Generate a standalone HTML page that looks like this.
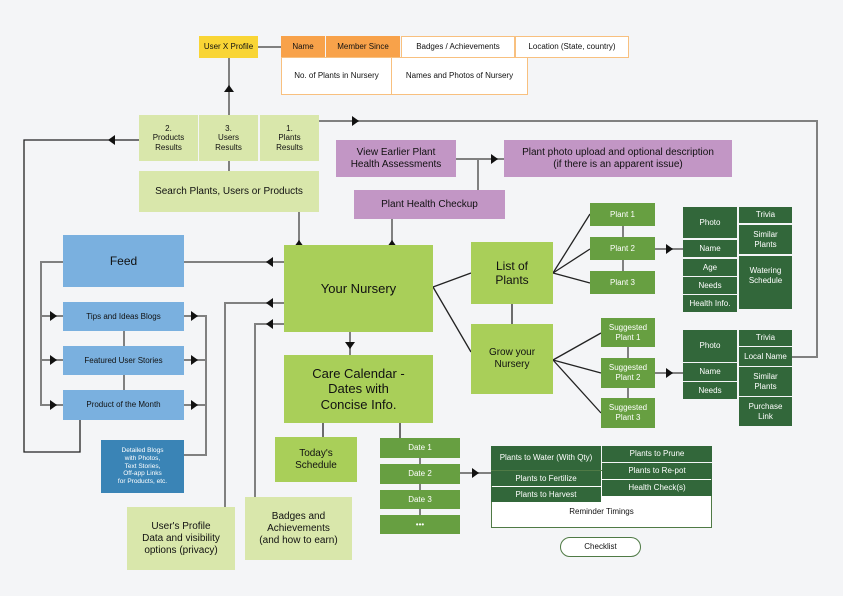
<!DOCTYPE html>
<html><head><meta charset="utf-8"><style>
body{margin:0;width:843px;height:596px;background:#f4f5f7;position:relative;overflow:hidden;font-family:"Liberation Sans",sans-serif;}
.b{position:absolute;display:flex;align-items:center;justify-content:center;text-align:center;box-sizing:border-box;color:#111;line-height:1.2;}
.s{font-size:8px;}.m{font-size:10px;}.l{font-size:12px;}.xl{font-size:13px;}
.lg{background:#d9e7ab;}.gr{background:#a9cf59;}.mg{background:#679f41;color:#fff;}.dg{background:#32673a;color:#fff;}
.pu{background:#c296c5;}.bl{background:#7ab0df;}.or{background:#f8a24a;}.ow{background:#fff;border:1.5px solid #f8c07f;}
svg{position:absolute;left:0;top:0;}
</style></head><body>
<svg width="843" height="596">
<g stroke="#808080" stroke-width="2" fill="none">
<line x1="229" y1="58" x2="229" y2="171"/><line x1="258" y1="47" x2="281" y2="47"/>
<polyline points="319,121 817,121 817,357 792,357"/>
<line x1="456" y1="159" x2="504" y2="159"/><line x1="478" y1="159" x2="478" y2="190"/>
<line x1="299" y1="212" x2="299" y2="245"/><line x1="392" y1="219" x2="392" y2="245"/>
<line x1="284" y1="262" x2="184" y2="262"/>
<polyline points="63,262 41,262 41,405 63,405"/><line x1="41" y1="316" x2="63" y2="316"/><line x1="41" y1="360" x2="63" y2="360"/>
<line x1="124" y1="331" x2="124" y2="346"/><line x1="124" y1="375" x2="124" y2="390"/>
<polyline points="184,316 206,316 206,455 184,455"/><line x1="184" y1="360" x2="206" y2="360"/><line x1="184" y1="405" x2="206" y2="405"/>
<polyline points="284,303 225,303 225,507"/><polyline points="284,324 255,324 255,497"/>
<line x1="350" y1="332" x2="350" y2="355"/>
<line x1="420" y1="458" x2="420" y2="515"/><line x1="460" y1="473" x2="491" y2="473"/>
<line x1="655" y1="249" x2="683" y2="249"/><line x1="655" y1="373" x2="683" y2="373"/>
<line x1="623" y1="226" x2="623" y2="271"/><line x1="628" y1="347" x2="628" y2="398"/>
</g>
<g stroke="#222" stroke-width="1.3" fill="none">
<polyline points="139,140 24,140 24,452 80,452 80,420"/>
<line x1="433" y1="287" x2="471" y2="273"/><line x1="433" y1="287" x2="471" y2="352"/>
<line x1="512" y1="304" x2="512" y2="324"/>
<line x1="553" y1="273" x2="590" y2="214"/><line x1="553" y1="273" x2="590" y2="249"/><line x1="553" y1="273" x2="590" y2="283"/>
<line x1="553" y1="360" x2="601" y2="333"/><line x1="553" y1="360" x2="601" y2="373"/><line x1="553" y1="360" x2="601" y2="413"/>
<line x1="323" y1="423" x2="323" y2="437"/><line x1="400" y1="423" x2="400" y2="438"/>
</g>
<g fill="#111">
<polygon points="229,85 224,92 234,92"/><polygon points="359,121 352,116 352,126"/><polygon points="108,140 115,135 115,145"/>
<polygon points="498,159 491,154 491,164"/><polygon points="299,240 294,247 304,247"/><polygon points="392,240 387,247 397,247"/>
<polygon points="266,262 273,257 273,267"/><polygon points="266,303 273,298 273,308"/><polygon points="266,324 273,319 273,329"/>
<polygon points="57,316 50,311 50,321"/><polygon points="57,360 50,355 50,365"/><polygon points="57,405 50,400 50,410"/>
<polygon points="198,316 191,311 191,321"/><polygon points="198,360 191,355 191,365"/><polygon points="198,405 191,400 191,410"/>
<polygon points="350,349 345,342 355,342"/><polygon points="479,473 472,468 472,478"/>
<polygon points="673,249 666,244 666,254"/><polygon points="673,373 666,368 666,378"/>
</g>
</svg>
<div class="b s" style="left:199px;top:36px;width:59px;height:22px;background:#f9d535">User X Profile</div>
<div class="b s or" style="left:281px;top:36px;width:44px;height:21px">Name</div>
<div class="b s or" style="left:326px;top:36px;width:74px;height:21px">Member Since</div>
<div class="b s ow" style="left:401px;top:36px;width:114px;height:22px">Badges / Achievements</div>
<div class="b s ow" style="left:515px;top:36px;width:114px;height:22px">Location (State, country)</div>
<div class="b s ow" style="left:281px;top:57px;width:111px;height:38px">No. of Plants in Nursery</div>
<div class="b s ow" style="left:391px;top:57px;width:137px;height:38px">Names and Photos of Nursery</div>
<div class="b s lg" style="left:139px;top:115px;width:59px;height:46px">2.<br>Products<br>Results</div>
<div class="b s lg" style="left:199px;top:115px;width:59px;height:46px">3.<br>Users<br>Results</div>
<div class="b s lg" style="left:260px;top:115px;width:59px;height:46px">1.<br>Plants<br>Results</div>
<div class="b m lg" style="left:139px;top:171px;width:180px;height:41px">Search Plants, Users or Products</div>
<div class="b m pu" style="left:336px;top:140px;width:120px;height:37px">View Earlier Plant<br>Health Assessments</div>
<div class="b m pu" style="left:504px;top:140px;width:228px;height:37px">Plant photo upload and optional description<br>(if there is an apparent issue)</div>
<div class="b m pu" style="left:354px;top:190px;width:151px;height:29px">Plant Health Checkup</div>
<div class="b l bl" style="left:63px;top:235px;width:121px;height:52px">Feed</div>
<div class="b s bl" style="left:63px;top:302px;width:121px;height:29px">Tips and Ideas Blogs</div>
<div class="b s bl" style="left:63px;top:346px;width:121px;height:29px">Featured User Stories</div>
<div class="b s bl" style="left:63px;top:390px;width:121px;height:30px">Product of the Month</div>
<div class="b" style="left:101px;top:440px;width:83px;height:53px;background:#3a84b6;color:#fff;font-size:6.5px">Detailed Blogs<br>with Photos,<br>Text Stories,<br>Off-app Links<br>for Products, etc.</div>
<div class="b xl gr" style="left:284px;top:245px;width:149px;height:87px">Your Nursery</div>
<div class="b xl gr" style="left:284px;top:355px;width:149px;height:68px">Care Calendar -<br>Dates with<br>Concise Info.</div>
<div class="b m gr" style="left:275px;top:437px;width:82px;height:45px">Today's<br>Schedule</div>
<div class="b s mg" style="left:380px;top:438px;width:80px;height:20px">Date 1</div>
<div class="b s mg" style="left:380px;top:464px;width:80px;height:20px">Date 2</div>
<div class="b s mg" style="left:380px;top:490px;width:80px;height:19px">Date 3</div>
<div class="b s mg" style="left:380px;top:515px;width:80px;height:19px">•••</div>
<div class="b m lg" style="left:127px;top:507px;width:108px;height:63px">User's Profile<br>Data and visibility<br>options (privacy)</div>
<div class="b m lg" style="left:245px;top:497px;width:107px;height:63px">Badges and<br>Achievements<br>(and how to earn)</div>
<div class="b l gr" style="left:471px;top:242px;width:82px;height:62px">List of<br>Plants</div>
<div class="b m gr" style="left:471px;top:324px;width:82px;height:70px">Grow your<br>Nursery</div>
<div class="b s mg" style="left:590px;top:203px;width:65px;height:23px">Plant 1</div>
<div class="b s mg" style="left:590px;top:237px;width:65px;height:23px">Plant 2</div>
<div class="b s mg" style="left:590px;top:271px;width:65px;height:23px">Plant 3</div>
<div class="b s mg" style="left:601px;top:318px;width:54px;height:29px">Suggested<br>Plant 1</div>
<div class="b s mg" style="left:601px;top:358px;width:54px;height:30px">Suggested<br>Plant 2</div>
<div class="b s mg" style="left:601px;top:398px;width:54px;height:30px">Suggested<br>Plant 3</div>
<div class="b s dg" style="left:683px;top:207px;width:54px;height:31px">Photo</div>
<div class="b s dg" style="left:683px;top:240px;width:54px;height:17px">Name</div>
<div class="b s dg" style="left:683px;top:259px;width:54px;height:17px">Age</div>
<div class="b s dg" style="left:683px;top:277px;width:54px;height:17px">Needs</div>
<div class="b s dg" style="left:683px;top:295px;width:54px;height:17px">Health Info.</div>
<div class="b s dg" style="left:739px;top:207px;width:53px;height:16px">Trivia</div>
<div class="b s dg" style="left:739px;top:225px;width:53px;height:29px">Similar<br>Plants</div>
<div class="b s dg" style="left:739px;top:256px;width:53px;height:53px;align-items:flex-start;padding-top:10px">Watering<br>Schedule</div>
<div class="b s dg" style="left:683px;top:330px;width:54px;height:32px">Photo</div>
<div class="b s dg" style="left:683px;top:363px;width:54px;height:18px">Name</div>
<div class="b s dg" style="left:683px;top:382px;width:54px;height:17px">Needs</div>
<div class="b s dg" style="left:739px;top:330px;width:53px;height:16px">Trivia</div>
<div class="b s dg" style="left:739px;top:347px;width:53px;height:19px">Local Name</div>
<div class="b s dg" style="left:739px;top:367px;width:53px;height:29px">Similar<br>Plants</div>
<div class="b s dg" style="left:739px;top:397px;width:53px;height:29px">Purchase<br>Link</div>
<div class="b s" style="left:491px;top:470px;width:221px;height:58px;background:#fff;border:1.5px solid #4f7a45;align-items:flex-end;padding-bottom:10px">Reminder Timings</div>
<div class="b s dg" style="left:491px;top:446px;width:110px;height:24px">Plants to Water (With Qty)</div>
<div class="b s dg" style="left:491px;top:471px;width:110px;height:15px">Plants to Fertilize</div>
<div class="b s dg" style="left:491px;top:487px;width:110px;height:15px">Plants to Harvest</div>
<div class="b s dg" style="left:602px;top:446px;width:110px;height:16px">Plants to Prune</div>
<div class="b s dg" style="left:602px;top:463px;width:110px;height:16px">Plants to Re-pot</div>
<div class="b s dg" style="left:602px;top:480px;width:110px;height:16px">Health Check(s)</div>
<div class="b s" style="left:560px;top:537px;width:81px;height:20px;border:1.5px solid #4f7a45;border-radius:11px;background:#fff">Checklist</div>
</body></html>
